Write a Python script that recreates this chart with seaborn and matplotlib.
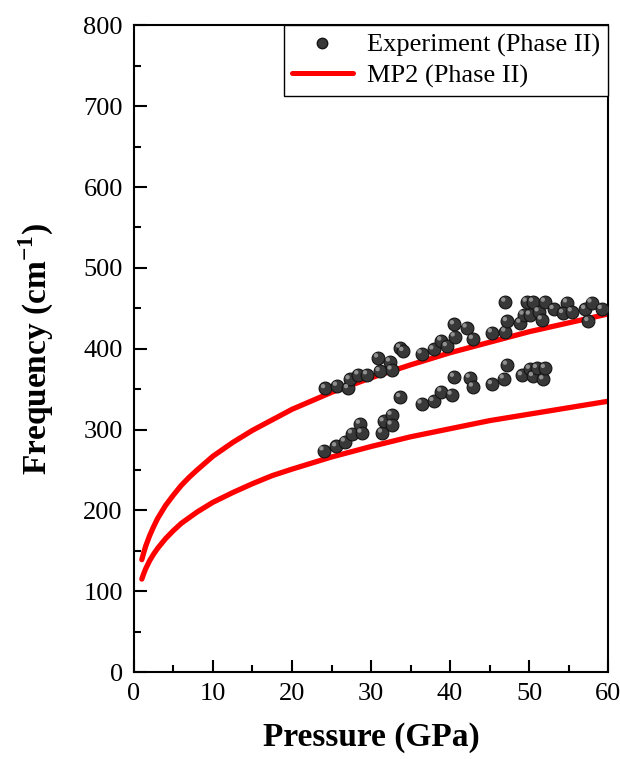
import pandas as pd
import matplotlib
matplotlib.use("Agg")
import matplotlib.pyplot as plt
import matplotlib.transforms as mtrans
from matplotlib.lines import Line2D
from matplotlib.ticker import MultipleLocator
import seaborn as sns

# ---------------- data ----------------
exp_upper_p = [24.2, 25.7, 27.1, 27.3, 28.4, 29.5, 30.9, 31.1, 32.4, 32.6, 33.7, 34.1,
               36.4, 37.9, 38.9, 39.6, 40.5, 40.6, 42.1, 42.9, 45.3, 47.0, 47.2, 47.0,
               48.9, 49.3, 49.7, 50.5, 50.1, 51.2, 51.6, 52.0, 53.1, 54.8, 54.3, 55.4,
               57.1, 57.5, 57.9, 59.2]
exp_upper_f = [351, 354, 351, 362, 368, 368, 389, 372, 384, 374, 401, 397,
               394, 399, 410, 403, 430, 415, 426, 412, 420, 421, 434, 458,
               432, 442, 458, 458, 442, 446, 436, 458, 449, 457, 444, 446,
               449, 434, 457, 449]

exp_lower_p = [24.0, 25.6, 26.7, 27.6, 28.6, 28.8, 31.4, 31.6, 32.6, 32.6, 33.7, 36.4,
               37.9, 38.9, 40.2, 40.5, 42.5, 42.9, 45.3, 46.8, 47.2, 49.1, 50.1, 50.5,
               51.0, 51.8, 52.0]
exp_lower_f = [274, 279, 285, 295, 307, 296, 296, 310, 318, 306, 340, 332,
               335, 347, 343, 365, 364, 353, 356, 363, 380, 367, 375, 366,
               376, 362, 376]

mp2_p = [1, 1.25, 1.5, 2, 2.5, 3, 4, 5, 6, 7, 8, 10, 12.5, 15, 17.5, 20, 25, 30,
         35, 40, 45, 50, 55, 60]
mp2_upper_f = [139, 148, 156, 169, 180, 190, 206, 219, 231, 241, 250, 267, 284, 299,
               312, 325, 346, 364, 380, 395, 408, 421, 432, 443]
mp2_lower_f = [115, 122, 128, 138, 146, 153, 165, 175, 184, 191, 198, 210, 222, 233,
               243, 251, 266, 279, 291, 301, 311, 319, 327, 335]

x_ticks = [0, 10, 20, 30, 40, 50, 60]
y_ticks = [0, 100, 200, 300, 400, 500, 600, 700, 800]
legend_labels = ["Experiment (Phase II)", "MP2 (Phase II)"]

# ---------------- styling ----------------
sns.set_style("ticks")
plt.rcParams["font.family"] = ["Liberation Serif", "DejaVu Serif"]
plt.rcParams["mathtext.fontset"] = "custom"
plt.rcParams["mathtext.rm"] = "Liberation Serif"
plt.rcParams["mathtext.bf"] = "Liberation Serif:bold"
plt.rcParams["text.color"] = "black"
plt.rcParams["axes.labelcolor"] = "black"
plt.rcParams["xtick.color"] = "black"
plt.rcParams["ytick.color"] = "black"

fig = plt.figure(figsize=(6.2, 7.59), dpi=100)
ax = fig.add_axes([0.216, 0.1146, 0.765, 0.852])

exp_df = pd.DataFrame({"P": exp_upper_p + exp_lower_p,
                       "F": exp_upper_f + exp_lower_f})
up_df = pd.DataFrame({"P": mp2_p, "F": mp2_upper_f})
lo_df = pd.DataFrame({"P": mp2_p, "F": mp2_lower_f})

red = "#ff0000"
sns.lineplot(data=up_df, x="P", y="F", ax=ax, color=red, lw=3.8, zorder=2)
sns.lineplot(data=lo_df, x="P", y="F", ax=ax, color=red, lw=3.8, zorder=2)
sns.scatterplot(data=exp_df, x="P", y="F", ax=ax, s=85, color="#383838",
                edgecolor="#141414", linewidth=0.8, zorder=3)
# sphere highlight
sns.scatterplot(data=exp_df, x="P", y="F", ax=ax, s=10, color="#a0a0a0",
                edgecolor="none", linewidth=0, zorder=4, alpha=0.85)
hl = ax.collections[-1]
hl.set_offset_transform(hl.get_offset_transform() +
                        mtrans.ScaledTranslation(-2.2/100, 2.2/100, fig.dpi_scale_trans))

ax.set_xlim(0, 60)
ax.set_ylim(0, 800)
ax.set_xticks(x_ticks)
ax.set_yticks(y_ticks)
ax.xaxis.set_minor_locator(MultipleLocator(5))
ax.yaxis.set_minor_locator(MultipleLocator(50))
ax.tick_params(which="both", direction="in", top=False, right=False,
               width=1.5, labelsize=19, pad=8, colors="black")
ax.tick_params(which="major", length=9)
ax.tick_params(which="minor", length=5)
for s in ax.spines.values():
    s.set_visible(True)
    s.set_linewidth(1.5)
    s.set_color("black")

ax.set_xlabel("Pressure (GPa)", fontsize=24, fontweight="bold", labelpad=12,
              color="black")
ax.set_ylabel(r"Frequency (cm$^{\mathbf{-1}}$)", fontsize=24, fontweight="bold",
              labelpad=20, color="black")

handles = [
    Line2D([], [], marker="o", ls="none", markersize=7.5, markerfacecolor="#383838",
           markeredgecolor="#141414"),
    Line2D([], [], color=red, lw=3.6),
]
leg = ax.legend(handles, legend_labels,
                loc="upper right", borderaxespad=0, fontsize=19, frameon=True,
                fancybox=False, framealpha=1, edgecolor="black",
                handlelength=2.3, handletextpad=0.55, borderpad=0.3,
                labelspacing=0.25)
leg.get_frame().set_linewidth(1.0)
for t in leg.get_texts():
    t.set_color("black")

fig.savefig("out.png", dpi=100)
